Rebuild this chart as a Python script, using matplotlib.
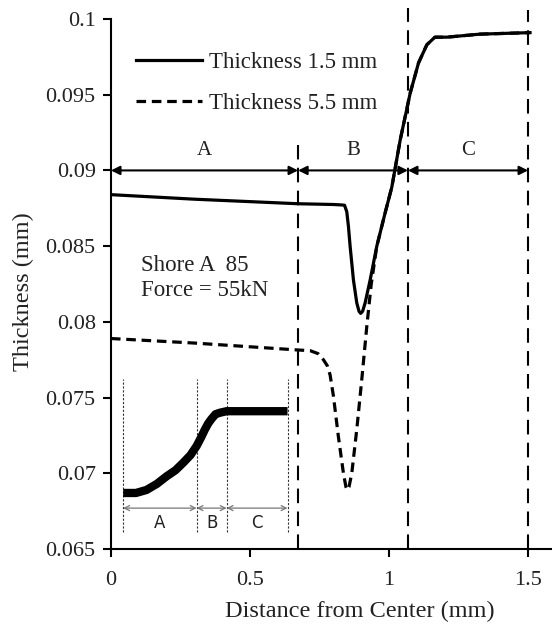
import matplotlib.pyplot as plt

plt.rcParams['font.family'] = ['Liberation Serif', 'DejaVu Serif']

# ---- data ----
x_thin = [0.0, 0.3, 0.673, 0.80, 0.830, 0.840, 0.848, 0.854, 0.860, 0.872, 0.884, 0.892,
          0.898, 0.905, 0.914, 0.932, 0.956, 0.986, 1.010, 1.040, 1.076, 1.106, 1.136,
          1.165, 1.208, 1.327, 1.507]
y_thin = [0.0884, 0.0881, 0.0878, 0.08775, 0.08772, 0.0877, 0.08727, 0.0863, 0.0850, 0.08276, 0.08125, 0.0807,
          0.08056, 0.0807, 0.08125, 0.08276, 0.0850, 0.0872, 0.0889, 0.0920, 0.0951, 0.0971, 0.0983,
          0.0988, 0.0988, 0.0990, 0.0991]

x_thick = [0.0, 0.3, 0.674, 0.716, 0.745, 0.764, 0.778, 0.788, 0.800, 0.818, 0.836, 0.845,
           0.850, 0.856, 0.866, 0.884, 0.902, 0.920, 0.936, 0.956, 0.986, 1.010, 1.040, 1.076,
           1.106, 1.136, 1.165, 1.208, 1.327, 1.507]
y_thick = [0.0789, 0.0786, 0.07814, 0.0781, 0.0779, 0.0775, 0.0771, 0.0765, 0.0751, 0.0724, 0.0700, 0.0691,
           0.0689, 0.0691, 0.0700, 0.0729, 0.0762, 0.0797, 0.0825, 0.0850, 0.0872, 0.0889, 0.0920, 0.0951,
           0.0971, 0.0983, 0.0988, 0.0988, 0.0990, 0.0991]

zone_edges = [0.0, 0.673, 1.068, 1.5]
zone_names = ['A', 'B', 'C']
zone_top = [0.0917, 0.1007, 0.1006]

# inset sketch
ins_x = [0.044, 0.090, 0.128, 0.165, 0.200, 0.232, 0.260, 0.286, 0.308, 0.325, 0.338,
         0.350, 0.362, 0.376, 0.392, 0.416, 0.635]
ins_y = [0.0687, 0.0687, 0.0689, 0.0693, 0.0698, 0.0702, 0.0707, 0.0712, 0.0718, 0.0724, 0.0729,
         0.0733, 0.0736, 0.0739, 0.0740, 0.0741, 0.0741]
ins_edges = [0.044, 0.308, 0.416, 0.635]

fig = plt.figure(figsize=(5.52, 6.27), dpi=100)
ax = fig.add_axes([0.201, 0.1244, 0.799, 0.8453])

ax.plot(x_thin, y_thin, color='black', lw=2.3, label='Thickness 1.5 mm')
ax.plot(x_thick, y_thick, color='black', lw=2.3, ls=(0, (3, 1.8)), label='Thickness 5.5 mm')

# zone boundaries and arrows
for i, xe in enumerate(zone_edges[1:]):
    ax.plot([xe, xe], [0.065, zone_top[i]], color='black', lw=1.5,
            ls=(0, (7, 4)), clip_on=False)
for i, name in enumerate(zone_names):
    a, b = zone_edges[i], zone_edges[i + 1]
    ax.annotate('', xy=(a, 0.09), xytext=(b, 0.09),
                arrowprops=dict(arrowstyle='<|-|>', color='black', lw=1.5,
                                shrinkA=0, shrinkB=0, mutation_scale=13))
    ax.text((a + b) / 2, 0.0907, name, ha='center', va='bottom', fontsize=15, color='#222222')

# inset schematic
for xe in ins_edges:
    ax.plot([xe, xe], [0.0661, 0.0762], color='#333333', lw=0.8, ls=(0, (2, 1.5)))
ax.plot(ins_x, ins_y, color='black', lw=6, solid_capstyle='butt')
for i, name in enumerate(zone_names):
    a, b = ins_edges[i], ins_edges[i + 1]
    ax.annotate('', xy=(a, 0.0677), xytext=(b, 0.0677),
                arrowprops=dict(arrowstyle='<->', color='#777777', lw=0.9,
                                shrinkA=0, shrinkB=0, mutation_scale=9))
    ax.text((a + b) / 2, 0.0667, name, ha='center', va='center', fontsize=12,
            family='DejaVu Sans', color='#222222')

ax.text(0.107, 0.0844, 'Shore A  85\nForce = 55kN', fontsize=16.5, color='#222222',
        va='top', linespacing=1.25)

ax.set_xlim(0, 1.586)
ax.set_ylim(0.065, 0.1)
ax.set_xticks([0, 0.5, 1, 1.5])
ax.set_xticklabels(['0', '0.5', '1', '1.5'])
ax.set_yticks([0.065, 0.07, 0.075, 0.08, 0.085, 0.09, 0.095, 0.1])
ax.set_yticklabels(['0.065', '0.07', '0.075', '0.08', '0.085', '0.09', '0.095', '0.1'])
ax.tick_params(direction='out', length=6, width=1.5, labelsize=16, colors='black',
               labelcolor='#222222', pad=5)
ax.tick_params(axis='x', pad=10)
ax.spines['top'].set_visible(False)
ax.spines['right'].set_visible(False)
for s in ['left', 'bottom']:
    ax.spines[s].set_linewidth(1.5)

ax.set_ylabel('Thickness (mm)', fontsize=17.5, color='#222222')
ax.yaxis.set_label_coords(-0.175, 0.485)
ax.set_xlabel('Distance from Center (mm)', fontsize=17.5, color='#222222')
ax.xaxis.set_label_coords(0.565, -0.098)

ax.legend(loc='upper left', bbox_to_anchor=(0.035, 0.955), frameon=False, fontsize=16.5,
          handlelength=2.9, handletextpad=0.3, labelspacing=0.85, labelcolor='#222222',
          borderaxespad=0.0)

fig.savefig('out.png', dpi=100)
